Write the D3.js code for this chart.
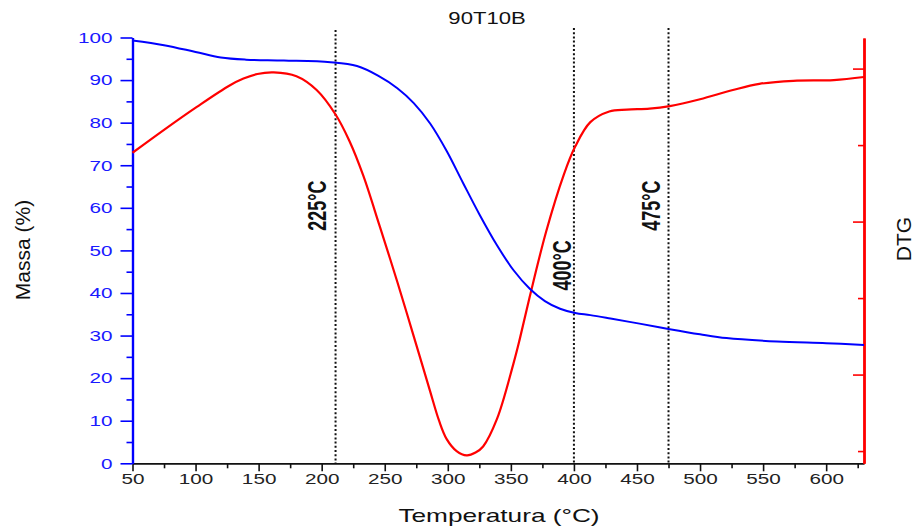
<!DOCTYPE html>
<html>
<head>
<meta charset="utf-8">
<script src="https://cdn.jsdelivr.net/npm/d3@7"></script>
<style>
  body { margin: 0; background: #fff; }
  svg { display: block; font-family: "Liberation Sans", Arial, sans-serif; }
</style>
</head>
<body>
<div id="chart"></div>
<script>
// TG curve (Massa %)
var tempTG = [50, 75, 100, 120, 140, 170, 207, 228, 245, 260, 273, 286, 299, 312, 325, 339, 352, 365, 377, 389, 401, 413, 429, 452, 476, 500, 521, 561, 600, 630];
var massTG = [99.3, 98.2, 96.6, 95.3, 94.8, 94.6, 94.2, 93.3, 91.0, 88.1, 84.6, 79.8, 73.4, 65.9, 58.5, 51.2, 45.4, 41.0, 38.1, 36.3, 35.3, 34.8, 34.0, 32.8, 31.5, 30.3, 29.4, 28.6, 28.2, 27.8];

// DTG curve (arbitrary units, right axis has no labels)
var tempDTG = [50, 75, 101, 127, 138, 149, 162, 180, 196, 211, 222, 233, 246, 260, 273, 286, 293, 299, 307, 315, 322, 328, 339, 352, 357, 365, 378, 392, 401, 413, 428, 442, 460, 476, 500, 526, 547, 574, 606, 630];
var dtg = [-0.55, -0.40, -0.25, -0.11, -0.065, -0.035, -0.025, -0.05, -0.14, -0.30, -0.473, -0.70, -1.03, -1.395, -1.75, -2.11, -2.30, -2.42, -2.50, -2.528, -2.51, -2.47, -2.29, -1.93, -1.77, -1.49, -1.065, -0.693, -0.51, -0.35, -0.28, -0.268, -0.262, -0.245, -0.20, -0.14, -0.10, -0.08, -0.075, -0.055];

// tick values
var xMajor = [50, 100, 150, 200, 250, 300, 350, 400, 450, 500, 550, 600];
var xMinor = [75, 125, 175, 225, 275, 325, 375, 425, 475, 525, 575, 625];
var yMajor = [0, 10, 20, 30, 40, 50, 60, 70, 80, 90, 100];
var yMinor = [5, 15, 25, 35, 45, 55, 65, 75, 85, 95];
var rMajor = [0, -1, -2];
var rMinor = [-0.5, -1.5, -2.5];

// vertical marker lines
var markerTemps = [211, 400, 475];
var markerLabels = ["225°C", "400°C", "475°C"];

var width = 920, height = 529;
var SX = 1.38; // the text in the picture is stretched sideways

var svg = d3.select("#chart").append("svg")
    .attr("width", width)
    .attr("height", height);

var x = d3.scaleLinear().domain([50, 630]).range([132.5, 864]);
var y = d3.scaleLinear().domain([0, 100]).range([463.3, 37.5]);
var yR = d3.scaleLinear().domain([-2.58, 0.2]).range([463.3, 38]);

function styleAxis(g, color, domainWidth) {
    g.selectAll("path").attr("stroke", color).attr("stroke-width", domainWidth);
    g.selectAll("line").attr("stroke", color).attr("stroke-width", 1.6);
}

// bottom axis
var gxMinor = svg.append("g").attr("transform", "translate(0," + y(0) + ")")
    .call(d3.axisBottom(x).tickValues(xMinor).tickSize(5).tickSizeOuter(0).tickFormat(""));
var gx = svg.append("g").attr("transform", "translate(0," + y(0) + ")")
    .call(d3.axisBottom(x).tickValues(xMajor).tickSize(8).tickSizeOuter(0));
styleAxis(gxMinor, "#111", 1.6);
styleAxis(gx, "#111", 1.6);
gx.selectAll("text")
    .attr("y", 10)
    .attr("dy", "0.71em")
    .attr("fill", "#222")
    .attr("font-size", 15)
    .attr("transform", "scale(" + SX + ",1)");

// left axis
var gyMinor = svg.append("g").attr("transform", "translate(" + x(50) + ",0)")
    .call(d3.axisLeft(y).tickValues(yMinor).tickSize(6).tickSizeOuter(0).tickFormat(""));
var gy = svg.append("g").attr("transform", "translate(" + x(50) + ",0)")
    .call(d3.axisLeft(y).tickValues(yMajor).tickSize(12).tickSizeOuter(0));
styleAxis(gyMinor, "#0000ff", 2.2);
styleAxis(gy, "#0000ff", 2.2);
gy.selectAll("text")
    .attr("x", -20 / SX)
    .attr("fill", "#1a1aff")
    .attr("font-size", 15)
    .attr("transform", "scale(" + SX + ",1)");

// right axis (DTG), ticks point inward, no labels
var grMinor = svg.append("g").attr("transform", "translate(" + x(630) + ",0)")
    .call(d3.axisLeft(yR).tickValues(rMinor).tickSize(6).tickFormat("").tickSizeOuter(0));
var gr = svg.append("g").attr("transform", "translate(" + x(630) + ",0)")
    .call(d3.axisLeft(yR).tickValues(rMajor).tickSize(11).tickFormat("").tickSizeOuter(0));
styleAxis(grMinor, "#ff0000", 2.4);
styleAxis(gr, "#ff0000", 2.4);

// marker lines
svg.selectAll(".marker")
    .data(markerTemps)
    .enter().append("line")
    .attr("class", "marker")
    .attr("x1", function(d) { return x(d); })
    .attr("x2", function(d) { return x(d); })
    .attr("y1", function(d, i) { return i === 0 ? 30 : 28; })
    .attr("y2", y(0))
    .attr("stroke", "#111")
    .attr("stroke-width", 2)
    .attr("stroke-dasharray", "2,2.2");

// curves
var lineTG = d3.line()
    .x(function(d) { return x(d[0]); })
    .y(function(d) { return y(d[1]); })
    .curve(d3.curveCatmullRom.alpha(0.5));

var lineDTG = d3.line()
    .x(function(d) { return x(d[0]); })
    .y(function(d) { return yR(d[1]); })
    .curve(d3.curveCatmullRom.alpha(0.5));

svg.append("path")
    .datum(d3.zip(tempDTG, dtg))
    .attr("d", lineDTG)
    .attr("fill", "none")
    .attr("stroke", "#ff0000")
    .attr("stroke-width", 2.2);

svg.append("path")
    .datum(d3.zip(tempTG, massTG))
    .attr("d", lineTG)
    .attr("fill", "none")
    .attr("stroke", "#0000ff")
    .attr("stroke-width", 2);

// marker labels
var labelDx = [-18.5, -12, -17];
var labelAt = [60.5, 46.5, 60.5];
svg.selectAll(".mlabel")
    .data(markerLabels)
    .enter().append("text")
    .attr("class", "mlabel")
    .attr("transform", function(d, i) {
        return "translate(" + (x(markerTemps[i]) + labelDx[i]) + "," + y(labelAt[i]) + ") scale(" + SX + ",1) rotate(-90)";
    })
    .attr("text-anchor", "middle")
    .attr("dy", "0.36em")
    .attr("font-size", 18)
    .attr("font-weight", "bold")
    .attr("fill", "#111")
    .text(function(d) { return d; });

// titles
svg.append("text")
    .attr("transform", "translate(487,18) scale(" + SX + ",1)")
    .attr("text-anchor", "middle")
    .attr("dy", "0.36em")
    .attr("font-size", 16)
    .attr("fill", "#111")
    .text("90T10B");

svg.append("text")
    .attr("transform", "translate(499,522) scale(" + SX + ",1)")
    .attr("text-anchor", "middle")
    .attr("font-size", 19)
    .attr("fill", "#111")
    .text("Temperatura (°C)");

svg.append("text")
    .attr("transform", "translate(22,250) rotate(-90)")
    .attr("text-anchor", "middle")
    .attr("dy", "0.36em")
    .attr("font-size", 21)
    .attr("fill", "#111")
    .text("Massa (%)");

svg.append("text")
    .attr("transform", "translate(903,239) rotate(-90)")
    .attr("text-anchor", "middle")
    .attr("dy", "0.36em")
    .attr("font-size", 21)
    .attr("fill", "#111")
    .text("DTG");
</script>
</body>
</html>
